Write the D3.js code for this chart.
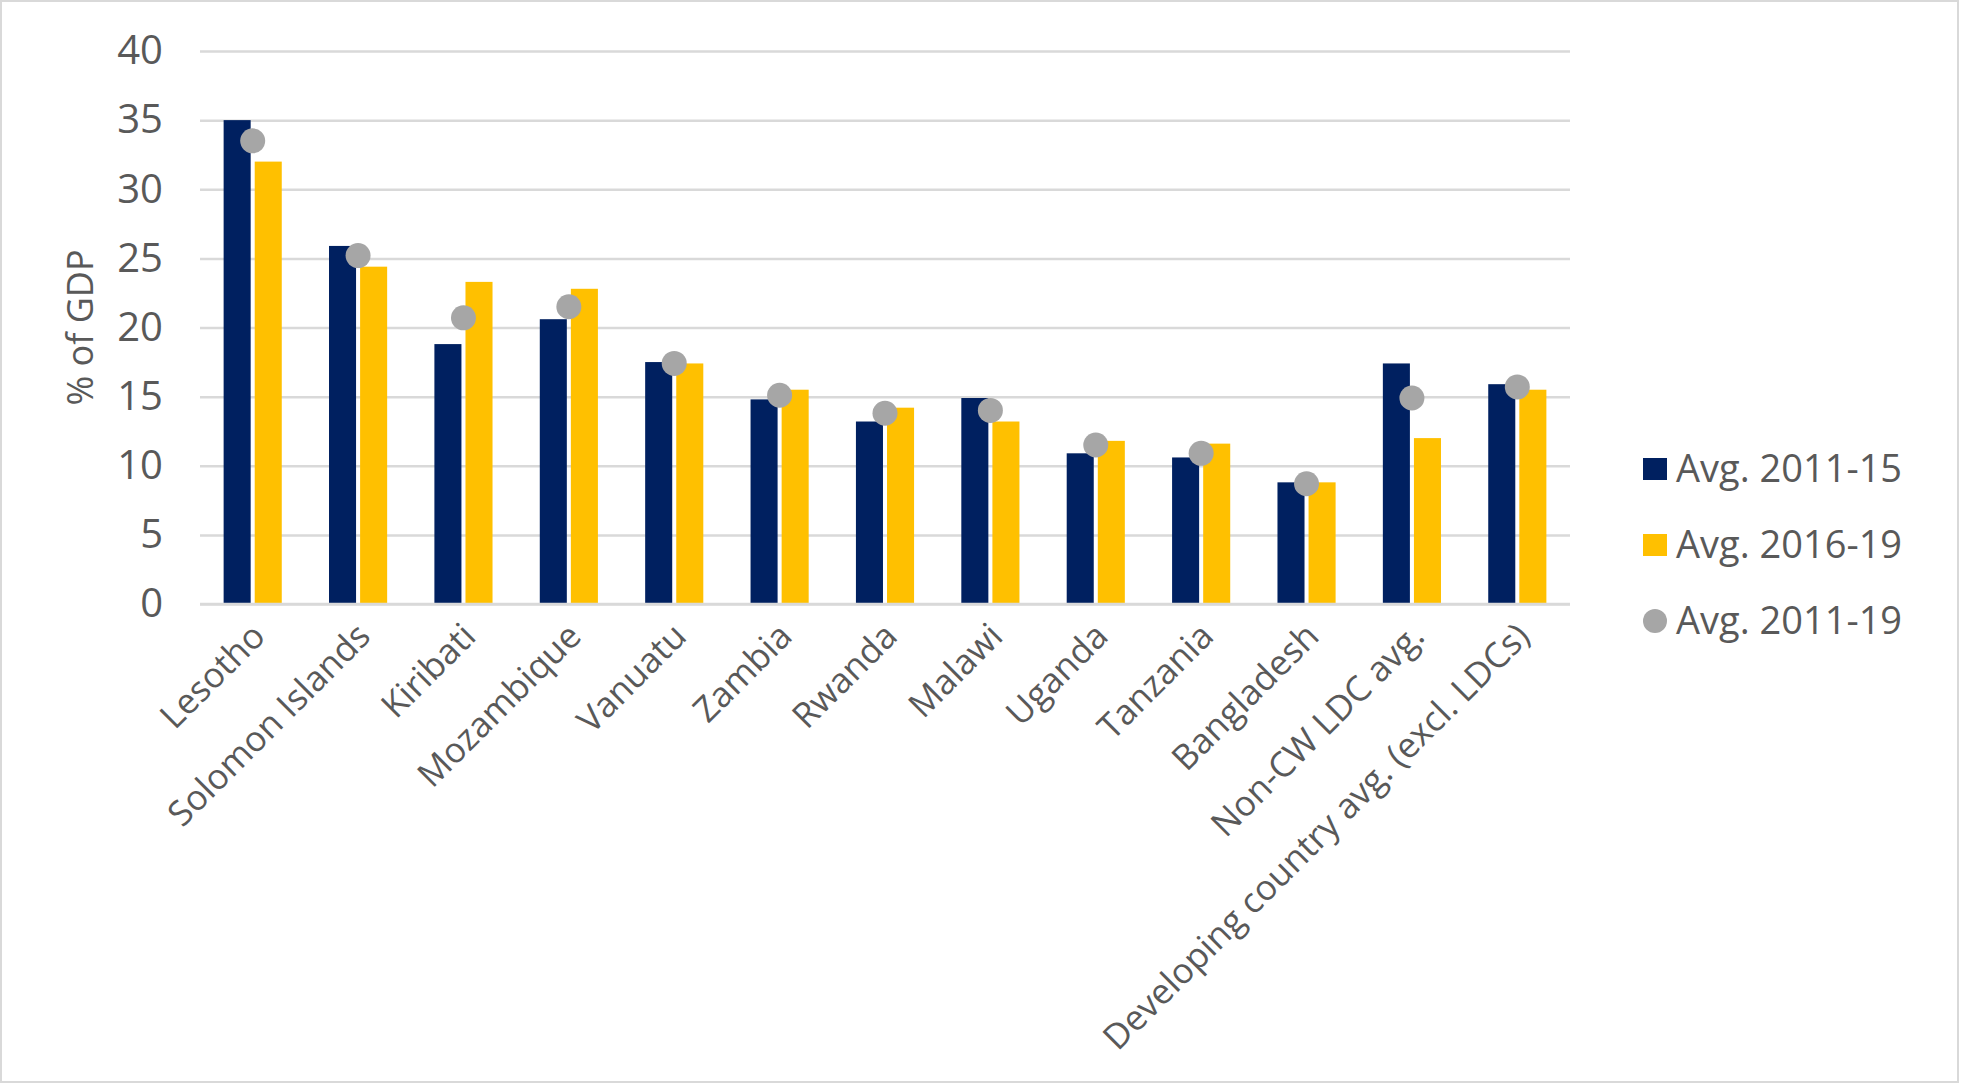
<!DOCTYPE html>
<meta charset="UTF-8">
<head>
    <title>% of GDP chart</title>
</head>
<style>
    body {
        margin: 0;
        background: #fff;
    }

    svg text {
        font-family: "Open Sans", "Liberation Sans", sans-serif;
        fill: #595959;
    }
</style>
<body>
    <div id="chart"></div>

    <script src="https://d3js.org/d3.v7.min.js"></script>
    <script>
        // data
        var categories = ["Lesotho", "Solomon Islands", "Kiribati", "Mozambique", "Vanuatu", "Zambia",
            "Rwanda", "Malawi", "Uganda", "Tanzania", "Bangladesh", "Non-CW LDC avg.",
            "Developing country avg. (excl. LDCs)"];
        var avg1115 = [35.0, 25.9, 18.8, 20.6, 17.5, 14.8, 13.2, 14.9, 10.9, 10.6, 8.8, 17.4, 15.9];
        var avg1619 = [32.0, 24.4, 23.3, 22.8, 17.4, 15.5, 14.2, 13.2, 11.8, 11.6, 8.8, 12.0, 15.5];
        var avg1119 = [33.5, 25.2, 20.7, 21.5, 17.4, 15.1, 13.8, 14.0, 11.5, 10.9, 8.7, 14.9, 15.7];
        var yTicks = [0, 5, 10, 15, 20, 25, 30, 35, 40];
        var barSeries = ["Avg. 2011-15", "Avg. 2016-19"];
        var dotSeries = "Avg. 2011-19";

        var w = 1961;
        var h = 1085;
        var plotLeft = 200, plotRight = 1570, plotTop = 51, plotBottom = 604;
        var navy = "#002060", gold = "#ffc000", grey = "#a6a6a6", gridCol = "#d9d9d9";

        var svg = d3.select("#chart")
            .append("svg")
            .attr("width", w)
            .attr("height", h);

        // outer frame
        svg.append("rect")
            .attr("x", 1).attr("y", 1)
            .attr("width", w - 4).attr("height", h - 4)
            .attr("fill", "none")
            .attr("stroke", gridCol)
            .attr("stroke-width", 2);

        var x0 = d3.scaleBand()
            .domain(categories)
            .range([plotLeft, plotRight]);

        var x1 = d3.scaleBand()
            .domain(barSeries)
            .range([0, x0.bandwidth()])
            .paddingInner(0.13)
            .paddingOuter(0.76);

        var y = d3.scaleLinear()
            .domain([0, 40])
            .range([plotBottom, plotTop]);

        // gridlines + y labels
        var yAxis = d3.axisLeft(y)
            .tickValues(yTicks)
            .tickSize(-(plotRight - plotLeft))
            .tickPadding(37);

        var gy = svg.append("g")
            .attr("transform", "translate(" + plotLeft + ",0)")
            .call(yAxis);
        gy.select(".domain").remove();
        gy.selectAll(".tick line")
            .attr("stroke", gridCol)
            .attr("stroke-width", 2.5);
        gy.selectAll(".tick text")
            .attr("font-size", 40)
            .attr("fill", "#595959");

        // y title
        svg.append("text")
            .attr("transform", "translate(80," + ((plotTop + plotBottom) / 2) + ") rotate(-90)")
            .attr("text-anchor", "middle")
            .attr("dy", "0.35em")
            .attr("font-size", 36)
            .text("% of GDP");

        // bars
        var rows = categories.map(function (c, i) {
            return { cat: c, vals: [avg1115[i], avg1619[i]], dot: avg1119[i] };
        });

        var groups = svg.append("g").selectAll("g")
            .data(rows)
            .enter()
            .append("g")
            .attr("transform", function (d) { return "translate(" + x0(d.cat) + ",0)"; });

        groups.selectAll("rect")
            .data(function (d) {
                return barSeries.map(function (s, k) { return { s: s, v: d.vals[k] }; });
            })
            .enter()
            .append("rect")
            .attr("x", function (d) { return x1(d.s); })
            .attr("width", x1.bandwidth())
            .attr("y", function (d) { return y(d.v); })
            .attr("height", function (d) { return y(0) - y(d.v); })
            .attr("fill", function (d, k) { return k == 0 ? navy : gold; });

        // x axis line
        svg.append("line")
            .attr("x1", plotLeft).attr("x2", plotRight)
            .attr("y1", y(0)).attr("y2", y(0))
            .attr("stroke", gridCol)
            .attr("stroke-width", 2.5);

        // dots
        svg.append("g").selectAll("circle")
            .data(rows)
            .enter()
            .append("circle")
            .attr("cx", function (d) { return x0(d.cat) + x0.bandwidth() / 2; })
            .attr("cy", function (d) { return y(d.dot); })
            .attr("r", 12.5)
            .attr("fill", grey);

        // category labels, rotated
        svg.append("g").selectAll("text")
            .data(categories)
            .enter()
            .append("text")
            .attr("transform", function (d) {
                var cx = x0(d) + x0.bandwidth() / 2 - 3;
                return "translate(" + cx + ",621) rotate(-45)";
            })
            .attr("text-anchor", "end")
            .attr("dy", "0.7em")
            .attr("font-size", 35)
            .text(function (d) { return d; });

        // legend
        var legend = [
            { name: barSeries[0], type: "rect", color: navy },
            { name: barSeries[1], type: "rect", color: gold },
            { name: dotSeries, type: "circle", color: grey }
        ];
        var lg = svg.append("g").selectAll("g")
            .data(legend)
            .enter()
            .append("g")
            .attr("transform", function (d, i) { return "translate(1643," + (469 + i * 76) + ")"; });

        lg.filter(function (d) { return d.type == "rect"; })
            .append("rect")
            .attr("x", 0).attr("y", -11)
            .attr("width", 24).attr("height", 22)
            .attr("fill", function (d) { return d.color; });
        lg.filter(function (d) { return d.type == "circle"; })
            .append("circle")
            .attr("cx", 12).attr("cy", 0)
            .attr("r", 12)
            .attr("fill", function (d) { return d.color; });
        lg.append("text")
            .attr("x", 33)
            .attr("dy", "0.35em")
            .attr("font-size", 38)
            .text(function (d) { return d.name; });
    </script>
</body>
